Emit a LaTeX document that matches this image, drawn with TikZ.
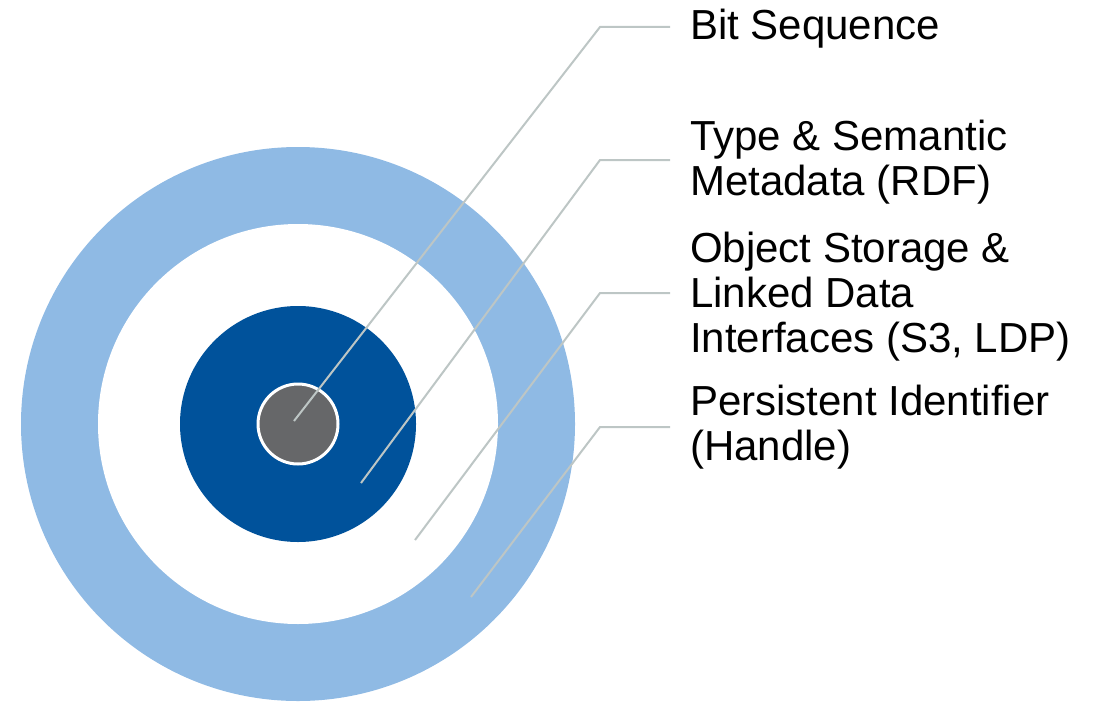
\documentclass[tikz,border=0pt]{standalone}
\usepackage{fontspec}
\setmainfont{Liberation Sans}
\definecolor{lightring}{HTML}{8FBAE4}
\definecolor{darkcore}{HTML}{00529B}
\definecolor{greycore}{HTML}{666769}
\definecolor{leader}{HTML}{BDC6C5}
\begin{document}
\begin{tikzpicture}[x=1pt,y=-1pt,
  ring/.style={circle,inner sep=0pt,draw=none},
  leaderline/.style={draw=leader,line width=2pt},
  lbl/.style={anchor=base west,align=left,inner sep=0pt,font=\fontsize{42}{45}\selectfont}]
\useasboundingbox (0,0) rectangle (1099,701);
\node[ring,fill=lightring,minimum size=554pt] (outer) at (298,424) {};
\node[ring,fill=white,minimum size=400pt] (storage) at (298,424) {};
\node[ring,fill=darkcore,minimum size=236pt] (meta) at (298,424) {};
\node[ring,fill=greycore,draw=white,line width=3pt,minimum size=80pt] (bits) at (298,424) {};
\coordinate (s1) at (294,421);
\coordinate (k1) at (600,27);
\coordinate (e1) at (670,27);
\coordinate (s2) at (361,483);
\coordinate (k2) at (600,160);
\coordinate (e2) at (670,160);
\coordinate (s3) at (415,540);
\coordinate (k3) at (600,293);
\coordinate (e3) at (670,293);
\coordinate (s4) at (471,597);
\coordinate (k4) at (600,427);
\coordinate (e4) at (670,427);
\draw[leaderline] (s1) -- (k1) -- (e1);
\draw[leaderline] (s2) -- (k2) -- (e2);
\draw[leaderline] (s3) -- (k3) -- (e3);
\draw[leaderline] (s4) -- (k4) -- (e4);
\node[lbl] (l1) at (690,40) {Bit Sequence};
\node[lbl] (l2) at (690,195) {Type \& Semantic\\Metadata (RDF)};
\node[lbl] (l3) at (690,352) {Object Storage \&\\Linked Data\\Interfaces (S3, LDP)};
\node[lbl] (l4) at (690,460) {Persistent Identifier\\(Handle)};
\end{tikzpicture}
\end{document}
